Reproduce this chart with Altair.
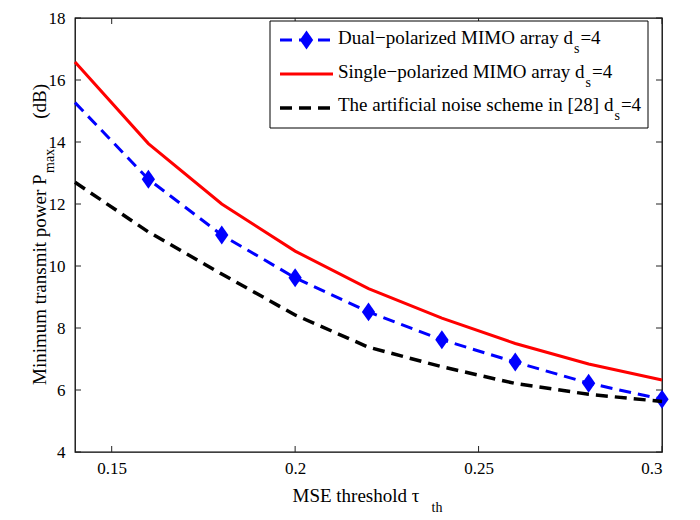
import altair as alt
import pandas as pd

# ---------------- data ----------------
tau = [0.14, 0.16, 0.18, 0.20, 0.22, 0.24, 0.26, 0.28, 0.30]
dual_pol = [15.27, 12.80, 11.00, 9.62, 8.52, 7.62, 6.90, 6.22, 5.70]
single_pol = [16.58, 13.95, 12.00, 10.48, 9.27, 8.32, 7.50, 6.84, 6.32]
artificial = [12.70, 11.10, 9.74, 8.42, 7.38, 6.75, 6.21, 5.86, 5.63]

series_keys = ["dual", "single", "artificial"]
legend_main = ["Dual\u2212polarized MIMO array d",
               "Single\u2212polarized MIMO array d",
               "The artificial noise scheme in [28] d"]
legend_sub = ["s", "s", "s"]
legend_tail = ["=4", "=4", "=4"]

x_ticks = [0.15, 0.20, 0.25, 0.30]
y_ticks = [4, 6, 8, 10, 12, 14, 16, 18]

x_title_main = "MSE threshold \u03c4"
x_title_sub = "th"
y_title_main = "Minimum transmit power P"
y_title_sub = "max"
y_title_tail = "(dB)"

# ---------------- layout / style ----------------
W, H = 587, 434
FONT = "Liberation Serif"
BLUE, RED, BLACK = "#0000ff", "#ff0000", "#000000"
DASH = [12, 7]
DIAMOND = "M0,-1L0.7,0L0,1L-0.7,0Z"
DSIZE = 360

# Times (Liberation Serif) advance widths, per 1000 em
TW = {" ": 250, "(": 333, ")": 333, "[": 333, "]": 333, "2": 500, "8": 500, "4": 500,
      "=": 564, "B": 667, "D": 722, "E": 611, "I": 333, "M": 889, "O": 722, "P": 556,
      "S": 556, "T": 611, "a": 444, "c": 444, "d": 500, "e": 444, "f": 333, "g": 500,
      "h": 500, "i": 278, "l": 278, "m": 778, "n": 500, "o": 500, "p": 500, "r": 333,
      "s": 389, "t": 278, "u": 500, "w": 722, "x": 500, "y": 500, "z": 444,
      "\u2212": 564, "\u03c4": 440}


def tw(s, size):
    return sum(TW.get(c, 500) for c in s) * size / 1000.0


df = pd.DataFrame({
    "tau": tau * 3,
    "value": dual_pol + single_pol + artificial,
    "series": [k for k in series_keys for _ in tau],
})

xs = alt.Scale(domain=[0.14, 0.30], nice=False, zero=False)
ys = alt.Scale(domain=[4, 18], nice=False, zero=False)

x_axis = alt.Axis(values=x_ticks, format=".2~f", title=None, tickSize=0, domain=False,
                  grid=False, labelFont=FONT, labelFontSize=17, labelColor="black",
                  labelPadding=8)
y_axis = alt.Axis(values=y_ticks, title=None, tickSize=0, domain=False, grid=False,
                  labelFont=FONT, labelFontSize=17, labelColor="black", labelPadding=10)


def X(field):
    return alt.X(f"{field}:Q", scale=xs, axis=x_axis)


def Y(field):
    return alt.Y(f"{field}:Q", scale=ys, axis=y_axis)


base = alt.Chart(df)

dual_line = base.transform_filter(alt.datum.series == "dual").mark_line(
    color=BLUE, strokeWidth=3, strokeDash=DASH).encode(x=X("tau"), y=Y("value"))
dual_marks = base.transform_filter(
    (alt.datum.series == "dual") & (alt.datum.tau > 0.15)).mark_point(
    shape=DIAMOND, filled=True, size=DSIZE, color=BLUE, opacity=1
).encode(x=X("tau"), y=Y("value"))
single_line = base.transform_filter(alt.datum.series == "single").mark_line(
    color=RED, strokeWidth=3).encode(x=X("tau"), y=Y("value"))
art_line = base.transform_filter(alt.datum.series == "artificial").mark_line(
    color=BLACK, strokeWidth=3.5, strokeDash=DASH).encode(x=X("tau"), y=Y("value"))

# inward ticks on all four sides
xt = pd.DataFrame({"t": x_ticks})
yt = pd.DataFrame({"t": y_ticks})
TL = 6
ticks = [
    alt.Chart(xt).mark_rule(color="#222", strokeWidth=1).encode(
        x=X("t"), y=alt.value(H), y2=alt.value(H - TL)),
    alt.Chart(xt).mark_rule(color="#222", strokeWidth=1).encode(
        x=X("t"), y=alt.value(0), y2=alt.value(TL)),
    alt.Chart(yt).mark_rule(color="#222", strokeWidth=1).encode(
        y=Y("t"), x=alt.value(0), x2=alt.value(TL)),
    alt.Chart(yt).mark_rule(color="#222", strokeWidth=1).encode(
        y=Y("t"), x=alt.value(W - TL), x2=alt.value(W)),
]

one = pd.DataFrame({"k": [0]})


def txt(s, x, y, size=19, angle=0):
    kw = dict(text=s, font=FONT, fontSize=size, color="black", align="left",
              baseline="alphabetic")
    if angle:
        kw["angle"] = angle
    return alt.Chart(one).mark_text(**kw).encode(x=alt.value(x), y=alt.value(y))


# ---------------- legend ----------------
LX0, LX1 = 195, 573
LY0 = 3
legend_layers = [
    alt.Chart(one).mark_rect(fill="white", stroke="black", strokeWidth=1).encode(
        x=alt.value(LX0), x2=alt.value(LX1), y=alt.value(LY0), y2=alt.value(LY0 + 107))
]
line_y = [LY0 + 19, LY0 + 53, LY0 + 87]
base_y = [LY0 + 23, LY0 + 57, LY0 + 90]
styles = [dict(color=BLUE, strokeWidth=3, strokeDash=DASH),
          dict(color=RED, strokeWidth=3),
          dict(color=BLACK, strokeWidth=3.5, strokeDash=DASH)]
SX0, SX1, TX = 205, 258, 263
for i in range(3):
    legend_layers.append(
        alt.Chart(one).mark_rule(**styles[i]).encode(
            x=alt.value(SX0), x2=alt.value(SX1), y=alt.value(line_y[i])))
    legend_layers.append(txt(legend_main[i], TX, base_y[i]))
    sx = TX + tw(legend_main[i], 19) + 1
    legend_layers.append(txt(legend_sub[i], sx, base_y[i] + 9, size=14))
    legend_layers.append(txt(legend_tail[i], sx + tw(legend_sub[i], 14) + 1, base_y[i]))
legend_layers.insert(3, alt.Chart(one).mark_point(
    shape=DIAMOND, filled=True, size=DSIZE, color=BLUE, opacity=1
).encode(x=alt.value((SX0 + SX1) / 2), y=alt.value(line_y[0])))

# ---------------- axis titles ----------------
xt0 = W / 2 - 76
title_layers = [
    txt(x_title_main, xt0, H + 50),
    txt(x_title_sub, xt0 + 139, H + 60, size=14),
]
cy = H / 2
ys0 = cy + 150
bx = -29
ymax0 = ys0 - tw(y_title_main, 19) - 1.5
ydb0 = ymax0 - tw(y_title_sub, 14) - 30
title_layers += [
    txt(y_title_main, bx, ys0, angle=270),
    txt(y_title_sub, bx + 8, ymax0, size=14, angle=270),
    txt(y_title_tail, bx, ydb0, angle=270),
]

chart = alt.layer(
    dual_line, dual_marks, single_line, art_line, *ticks, *legend_layers, *title_layers
).properties(
    width=W, height=H,
    autosize=alt.AutoSizeParams(type="none"),
    padding={"left": 67, "top": 10, "right": 25, "bottom": 64},
    background="white",
).configure_view(stroke="black", strokeWidth=1.3)

chart.save("out.html", embed_options={"renderer": "svg", "actions": False})
